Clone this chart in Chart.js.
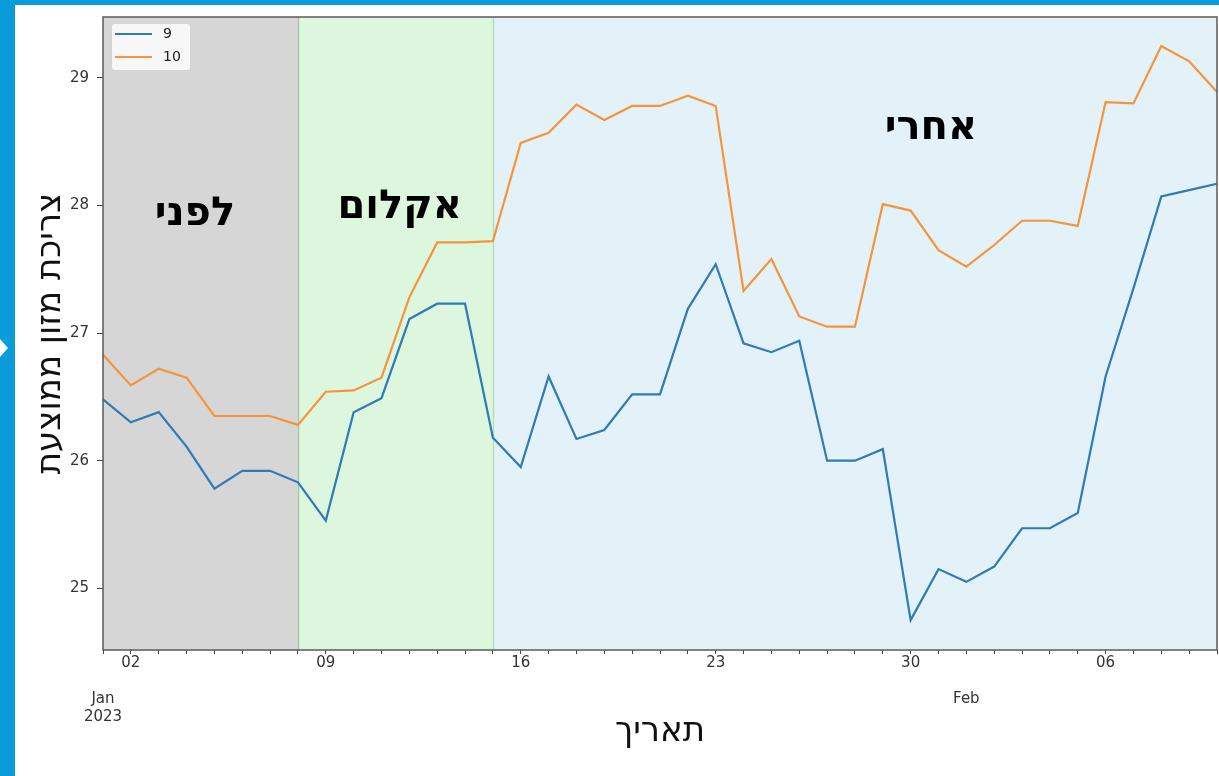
<!DOCTYPE html>
<html>
<head>
<meta charset="utf-8">
<script src="https://cdn.jsdelivr.net/npm/chart.js@4/dist/chart.umd.min.js"></script>
<style>
  html, body { margin: 0; padding: 0; background: #fff; }
  #wrap { width: 1219px; height: 776px; position: relative; }
</style>
</head>
<body>
<div id="wrap"><canvas id="c" width="1219" height="776"></canvas></div>
<script>
// Daily dates, Jan 1 – Feb 10 2023
const DATES = [
  '2023-01-01','2023-01-02','2023-01-03','2023-01-04','2023-01-05','2023-01-06','2023-01-07',
  '2023-01-08','2023-01-09','2023-01-10','2023-01-11','2023-01-12','2023-01-13','2023-01-14',
  '2023-01-15','2023-01-16','2023-01-17','2023-01-18','2023-01-19','2023-01-20','2023-01-21',
  '2023-01-22','2023-01-23','2023-01-24','2023-01-25','2023-01-26','2023-01-27','2023-01-28',
  '2023-01-29','2023-01-30','2023-01-31','2023-02-01','2023-02-02','2023-02-03','2023-02-04',
  '2023-02-05','2023-02-06','2023-02-07','2023-02-08','2023-02-09','2023-02-10'
];

// Average feed intake, group 9
const SERIES_9 = [
  26.48, 26.30, 26.38, 26.11, 25.78, 25.92, 25.92,
  25.83, 25.53, 26.38, 26.49, 27.11, 27.23, 27.23,
  26.18, 25.95, 26.66, 26.17, 26.24, 26.52, 26.52,
  27.19, 27.54, 26.92, 26.85, 26.94, 26.00, 26.00,
  26.09, 24.75, 25.15, 25.05, 25.17, 25.47, 25.47,
  25.59, 26.66, 27.35, 28.07, 28.12, 28.17
];

// Average feed intake, group 10
const SERIES_10 = [
  26.83, 26.59, 26.72, 26.65, 26.35, 26.35, 26.35,
  26.28, 26.54, 26.55, 26.65, 27.28, 27.71, 27.71,
  27.72, 28.49, 28.57, 28.79, 28.67, 28.78, 28.78,
  28.86, 28.78, 27.33, 27.58, 27.13, 27.05, 27.05,
  28.01, 27.96, 27.65, 27.52, 27.69, 27.88, 27.88,
  27.84, 28.81, 28.80, 29.25, 29.13, 28.89
];

const SERIES_NAMES = ['9', '10'];

// Date axis labels (weekly days, month / year marks)
const X_TICK_LABELS = {
  '2023-01-01': ['', '', 'Jan', '2023'],
  '2023-01-02': '02',
  '2023-01-09': '09',
  '2023-01-16': '16',
  '2023-01-23': '23',
  '2023-01-30': '30',
  '2023-02-01': ['', '', 'Feb'],
  '2023-02-06': '06'
};

const Y_TICKS = [25, 26, 27, 28, 29];
const Y_MIN = 24.516;
const Y_MAX = 29.477;

// Experiment phases
const PHASE_NAMES = ['לפני', 'אקלום', 'אחרי'];
const PHASE_STARTS = ['2023-01-01', '2023-01-08', '2023-01-15'];
const PHASE_ENDS = ['2023-01-08', '2023-01-15', '2023-02-10'];

// Phase styling and label placement (day index, value)
const PHASE_FILL = ['rgb(214,214,214)', 'rgb(220,247,221)', 'rgb(227,242,248)'];
const PHASE_TEXT_POS = [[3.3, 27.93], [10.65, 27.98], [29.73, 28.60]];

const FONT = '"DejaVu Sans", sans-serif';

const framePlugin = {
  id: 'slideFrame',
  beforeDraw(chart) {
    const ctx = chart.ctx;
    ctx.save();
    ctx.fillStyle = '#ffffff';
    ctx.fillRect(0, 0, chart.width, chart.height);
    ctx.fillStyle = '#0a9bdb';
    ctx.fillRect(0, 0, chart.width, 5);
    ctx.fillRect(0, 0, 15, chart.height);
    ctx.fillStyle = '#ffffff';
    ctx.beginPath();
    ctx.moveTo(0, 339);
    ctx.lineTo(8, 348);
    ctx.lineTo(0, 357);
    ctx.closePath();
    ctx.fill();
    ctx.restore();
  }
};

const phasePlugin = {
  id: 'phases',
  beforeDatasetsDraw(chart) {
    const {ctx, chartArea, scales: {x, y}} = chart;
    ctx.save();
    PHASE_NAMES.forEach((name, i) => {
      const x0 = x.getPixelForValue(DATES.indexOf(PHASE_STARTS[i]));
      const x1 = x.getPixelForValue(DATES.indexOf(PHASE_ENDS[i]));
      ctx.fillStyle = PHASE_FILL[i];
      ctx.fillRect(x0, chartArea.top, x1 - x0, chartArea.bottom - chartArea.top);
    });
    // phase boundaries
    [1, 2].forEach((i, k) => {
      const xb = Math.round(x.getPixelForValue(DATES.indexOf(PHASE_STARTS[i]))) + 0.5;
      ctx.strokeStyle = k === 0 ? 'rgba(150,185,150,0.75)' : 'rgba(175,220,178,0.9)';
      ctx.lineWidth = 1.5;
      ctx.beginPath();
      ctx.moveTo(xb, chartArea.top);
      ctx.lineTo(xb, chartArea.bottom);
      ctx.stroke();
    });
    // phase names
    ctx.fillStyle = '#000';
    ctx.font = 'bold 40px ' + FONT;
    ctx.textAlign = 'center';
    ctx.textBaseline = 'middle';
    PHASE_NAMES.forEach((name, i) => {
      const [d, v] = PHASE_TEXT_POS[i];
      ctx.fillText(name, x.getPixelForValue(d), y.getPixelForValue(v));
    });
    ctx.restore();
  },
  afterDatasetsDraw(chart) {
    const {ctx, chartArea} = chart;
    ctx.save();
    // axes frame
    ctx.strokeStyle = '#5a5a5a';
    ctx.lineWidth = 1.5;
    ctx.strokeRect(chartArea.left, chartArea.top, chartArea.right - chartArea.left, chartArea.bottom - chartArea.top);
    // legend box
    const bx = 111, by = 23, bw = 79, bh = 47;
    ctx.fillStyle = 'rgba(255,255,255,0.8)';
    ctx.strokeStyle = 'rgba(210,210,210,0.9)';
    ctx.lineWidth = 1;
    ctx.beginPath();
    ctx.roundRect(bx + 0.5, by + 0.5, bw, bh, 3);
    ctx.fill();
    ctx.stroke();
    ctx.font = '14px ' + FONT;
    ctx.textAlign = 'left';
    ctx.textBaseline = 'middle';
    chart.data.datasets.forEach((ds, i) => {
      const ly = by + 11 + i * 23;
      ctx.strokeStyle = ds.borderColor;
      ctx.lineWidth = 2;
      ctx.beginPath();
      ctx.moveTo(bx + 4, ly);
      ctx.lineTo(bx + 41, ly);
      ctx.stroke();
      ctx.fillStyle = '#222';
      ctx.fillText(ds.label, bx + 52, ly + 0.5);
    });
    ctx.restore();
  }
};

new Chart(document.getElementById('c'), {
  type: 'line',
  data: {
    labels: DATES,
    datasets: [
      { label: SERIES_NAMES[0], data: SERIES_9, borderColor: '#2f7bb6', borderWidth: 2.2, pointRadius: 0, tension: 0 },
      { label: SERIES_NAMES[1], data: SERIES_10, borderColor: '#f5953b', borderWidth: 2.2, pointRadius: 0, tension: 0 }
    ]
  },
  options: {
    responsive: false,
    animation: false,
    devicePixelRatio: 1,
    layout: { padding: { left: 0, top: 15, right: 2, bottom: 0 } },
    plugins: { legend: { display: false }, tooltip: { enabled: false } },
    scales: {
      x: {
        type: 'category',
        offset: false,
        grid: { display: true, drawOnChartArea: false, drawTicks: true, tickLength: 4, tickColor: '#444', tickWidth: 1 },
        border: { display: false },
        ticks: {
          autoSkip: false,
          maxRotation: 0,
          padding: 0,
          color: '#333',
          font: { family: FONT, size: 15, lineHeight: 1.2 },
          callback: function (value) {
            const d = this.getLabelForValue(value);
            return X_TICK_LABELS[d] || '';
          }
        },
        title: {
          display: true,
          text: 'תאריך',
          color: '#111',
          font: { family: FONT, size: 34, lineHeight: 1.2 },
          padding: { top: 0, bottom: 23 }
        },
        afterFit(scale) { scale.height = 126; scale.paddingLeft = 0; scale.paddingRight = 0; }
      },
      y: {
        min: Y_MIN,
        max: Y_MAX,
        grid: { display: true, drawOnChartArea: false, drawTicks: true, tickLength: 6, tickColor: '#444' },
        border: { display: false },
        afterBuildTicks(scale) { scale.ticks = Y_TICKS.map(v => ({ value: v })); },
        ticks: {
          padding: 8,
          color: '#333',
          font: { family: FONT, size: 15 },
          callback: v => String(v)
        },
        title: {
          display: true,
          text: 'צריכת מזון ממוצעת',
          color: '#111',
          font: { family: FONT, size: 34, lineHeight: 1.2 },
          padding: { top: 31, bottom: 0 }
        },
        afterFit(scale) { scale.width = 103; }
      }
    }
  },
  plugins: [framePlugin, phasePlugin]
});
</script>
</body>
</html>
